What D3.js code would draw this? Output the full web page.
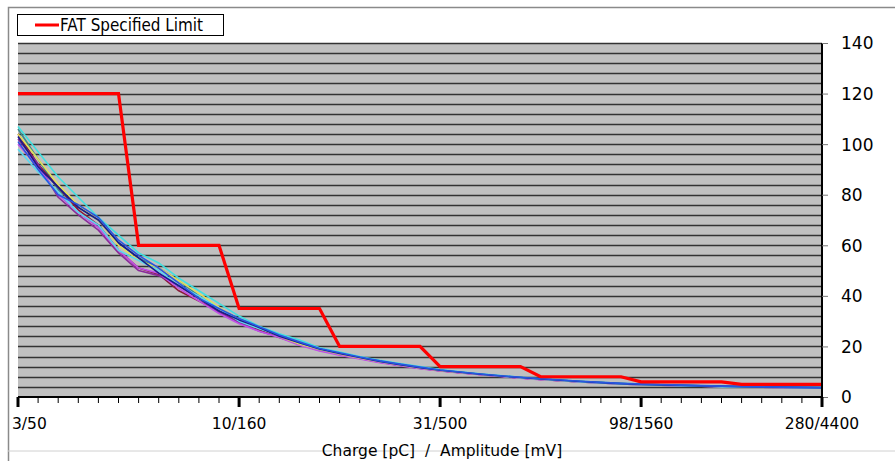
<!DOCTYPE html>
<html><head><meta charset="utf-8">
<script src="https://cdn.jsdelivr.net/npm/d3@7"></script>
<style>
html,body{margin:0;padding:0;background:#fff;}
svg{display:block;}
text{font-family:"DejaVu Sans",Verdana,sans-serif;fill:#000;}
</style></head>
<body>
<svg id="chart" width="895" height="461"></svg>
<script>
// ---- data ----
const categoryCount = 41;                 // measurement points (index 0..40)
const xTickIndex  = [0, 11, 21, 31, 40];
const xTickLabels = ["3/50", "10/160", "31/500", "98/1560", "280/4400"];
const yTicks = [0, 20, 40, 60, 80, 100, 120, 140];

const limitName = "FAT Specified Limit";
const limitValues = [120,120,120,120,120,120, 60,60,60,60,60, 35,35,35,35,35, 20,20,20,20,20,
                     12,12,12,12,12, 8,8,8,8,8, 6,6,6,6,6, 5,5,5,5,5];

const seriesTeal    = [106,94,82,75,70,61,55,51,46,40,35,31,27.5,24.5,21.5,19,17.2,15.6,14.1,12.8,11.6,10.6,9.8,9.0,8.3,7.7,7.1,6.6,6.1,5.7,5.3,5.0,4.8,4.6,4.4,4.3,4.1,4.0,3.9,3.8,3.7];
const seriesMaroon  = [104,92,83,74,68,58,51,48.5,42,38,34,29.5,26.5,23.5,21,18.6,16.9,15.3,13.9,12.6,11.4,10.4,9.6,8.9,8.2,7.5,6.9,6.4,6.0,5.6,5.2,4.9,4.7,4.5,4.3,4.1,4.0,3.9,3.8,3.7,3.6];
const seriesPurple  = [102,92,79,72,66,57,50,48,44,39,33.5,29.5,26,23.8,20.8,18.4,16.8,15.2,13.8,12.5,11.3,10.4,9.6,8.9,8.2,7.5,6.9,6.4,6.0,5.6,5.2,4.9,4.7,4.5,4.3,4.1,4.0,3.9,3.8,3.7,3.6];
const seriesViolet  = [100,91,80,73,67,58,51,49,43,38,33,29,26,23.5,20.5,18.2,16.5,15,13.6,12.4,11.2,10.3,9.5,8.8,8.1,7.4,6.8,6.4,6.0,5.6,5.2,4.9,4.7,4.5,4.3,4.1,4.0,3.9,3.8,3.7,3.6];
const seriesYellow  = [104,94,84,76,70,60,54,51,46,41,35.5,30.5,27.5,24,21,18.8,17,15.4,14,12.7,11.5,10.5,9.7,9.0,8.3,7.6,7.0,6.5,6.1,5.7,5.3,5.0,4.8,4.6,4.4,4.2,4.1,4.0,3.9,3.8,3.7];
const seriesLightCyan = [98,89,81,73,68,58,54,50,44,40,35,30,27,24.5,21.5,19,17.3,15.7,14.2,12.9,11.7,10.7,9.8,9.0,8.3,7.6,7.0,6.5,6.0,5.6,5.2,4.9,4.7,4.5,4.3,4.1,4.0,3.9,3.8,3.7,3.6];
const seriesCyan    = [107,97,87,79,71,64,57,53,47,42,37,32,28,25,22.5,19.5,17.8,16,14.5,13.2,12,10.9,10,9.2,8.5,7.8,7.2,6.7,6.2,5.8,5.4,5.1,4.8,4.6,4.4,4.2,4.1,4.0,3.9,3.8,3.7];
const seriesNavy    = [103,91,83,75,70,61,55,49,44,39,34,30.5,27.5,24,21.5,19,17.2,15.6,14.1,12.8,11.6,10.6,9.8,9.0,8.3,7.7,7.1,6.6,6.1,5.7,5.3,5.0,4.8,4.6,4.4,4.3,4.1,4.0,3.9,3.8,3.7];
const seriesBlue    = [101,90,80,76,71,62,56,51,45,39,35,31,27.8,24.5,21.8,19.2,17.5,15.8,14.3,13,11.8,10.7,9.9,9.1,8.4,7.8,7.2,6.7,6.2,5.8,5.4,5.1,4.9,4.7,4.5,4.3,4.2,4.0,3.9,3.8,3.7];

const measured = [
  {values: seriesTeal,      color: "#3d8a8a"},
  {values: seriesMaroon,    color: "#8a1a3a"},
  {values: seriesPurple,    color: "#8a2a9a"},
  {values: seriesViolet,    color: "#c050e8"},
  {values: seriesYellow,    color: "#e2e05a"},
  {values: seriesLightCyan, color: "#5ad8f0"},
  {values: seriesCyan,      color: "#3ee0e0"},
  {values: seriesNavy,      color: "#1a1a8a"},
  {values: seriesBlue,      color: "#2a55e0"}
];

// ---- drawing ----
const svg = d3.select("#chart");
const L = 18, R = 822, T = 43, B = 397;
const x = d3.scaleLinear().domain([0, categoryCount - 1]).range([L, R]);
const y = d3.scaleLinear().domain([0, 140]).range([B, T]);

// chart frame
svg.append("path").attr("d", `M8.5,461 V7.5 H895`).attr("fill", "none").attr("stroke", "#8a8a8a").attr("stroke-width", 1.5);
svg.append("line").attr("x1", 8).attr("x2", 895).attr("y1", 451).attr("y2", 451).attr("stroke", "#d0d0d0");

// plot background
svg.append("rect").attr("x", L).attr("y", T).attr("width", R - L).attr("height", B - T).attr("fill", "#c0c0c0");

// gridlines every 4 units
const gridVals = d3.range(4, 141, 4);
svg.append("g").selectAll("line").data(gridVals).join("line")
  .attr("x1", L).attr("x2", R).attr("y1", d => Math.round(y(d)) + 0.5).attr("y2", d => Math.round(y(d)) + 0.5)
  .attr("stroke", "#333").attr("stroke-width", 1.4);

// measured curves
const line = d3.line().x((d, i) => x(i)).y(d => y(d));
svg.append("g").selectAll("path").data(measured).join("path")
  .attr("d", d => line(d.values)).attr("fill", "none")
  .attr("stroke", d => d.color).attr("stroke-width", 1.6).attr("stroke-linejoin", "round");

// limit line
svg.append("path").attr("d", line(limitValues)).attr("fill", "none")
  .attr("stroke", "#ff0000").attr("stroke-width", 3.2).attr("stroke-linejoin", "miter");

// right y axis
const yAxis = d3.axisRight(y).tickValues(yTicks).tickSize(6).tickPadding(13);
const gy = svg.append("g").attr("transform", `translate(${R},0)`).call(yAxis);
gy.select(".domain").attr("stroke", "#000").attr("stroke-width", 2).attr("d", `M0,${T}V${B}`);
gy.selectAll(".tick line").attr("stroke", "#777").attr("stroke-width", 1);
gy.selectAll(".tick text").attr("font-size", 17).attr("font-family", "DejaVu Sans, sans-serif").attr("fill", "#000").attr("dy", "0.35em");

// bottom x axis: minor ticks
const minorIdx = d3.range(0, categoryCount);
const gx = svg.append("g");
gx.selectAll("line.minor").data(minorIdx.filter(i => !xTickIndex.includes(i))).join("line")
  .attr("class", "minor").attr("x1", d => x(d)).attr("x2", d => x(d)).attr("y1", B).attr("y2", B + 6)
  .attr("stroke", "#000").attr("stroke-width", 1);
gx.selectAll("line.major").data(xTickIndex).join("line")
  .attr("class", "major").attr("x1", d => x(d)).attr("x2", d => x(d)).attr("y1", B).attr("y2", B + 10)
  .attr("stroke", "#000").attr("stroke-width", 3);
svg.append("line").attr("x1", L).attr("x2", R + 1).attr("y1", B).attr("y2", B).attr("stroke", "#000").attr("stroke-width", 2);
gx.selectAll("text").data(xTickIndex).join("text")
  .attr("x", (d, i) => i === 0 ? x(d) - 6 : x(d)).attr("y", 429)
  .attr("text-anchor", (d, i) => i === 0 ? "start" : "middle")
  .attr("font-size", 15.5).text((d, i) => xTickLabels[i]);

// axis title
svg.append("text").attr("x", 442).attr("y", 456).attr("text-anchor", "middle").attr("font-size", 15.5)
  .attr("xml:space", "preserve").style("white-space", "pre").text("Charge [pC]  /  Amplitude [mV]");

// legend
const lg = svg.append("g");
lg.append("rect").attr("x", 17.5).attr("y", 14.5).attr("width", 206).attr("height", 21).attr("fill", "#fff").attr("stroke", "#000").attr("stroke-width", 1);
lg.append("line").attr("x1", 35).attr("x2", 59).attr("y1", 25).attr("y2", 25).attr("stroke", "#ff0000").attr("stroke-width", 3);
lg.append("text").attr("x", 60).attr("y", 31).attr("font-size", 17)
  .attr("textLength", 143).attr("lengthAdjust", "spacingAndGlyphs").text(limitName);
</script>
</body></html>
